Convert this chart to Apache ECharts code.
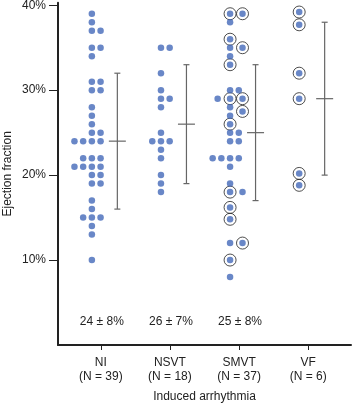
<!DOCTYPE html>
<html>
<head>
<meta charset="utf-8">
<script src="https://cdn.jsdelivr.net/npm/echarts@6/dist/echarts.min.js"></script>
<style>
  html, body { margin: 0; padding: 0; background: #fff; }
  #chart { width: 352px; height: 403px; }
</style>
</head>
<body>
<div id="chart"></div>
<script>
const groups = ["NI", "NSVT", "SMVT", "VF"];
const counts = [39, 18, 37, 6];
const means = [24, 26, 25, 29];
const sds = [8, 7, 8, 9];
const showSummary = [true, true, true, false];
const yTicks = [10, 20, 30, 40];

// ejection fraction of each patient (%)
const niValues = [39, 38, 37, 37, 35, 35, 34, 31, 31, 30, 30, 28, 27, 26, 25, 25,
  24, 24, 24, 24, 22, 22, 22, 21, 21, 21, 21, 20, 20, 19, 19, 17, 16, 15, 15, 15, 14, 13, 10];
const nsvtValues = [35, 35, 32, 30, 29, 29, 28, 25, 24, 24, 24, 23, 22, 20, 19, 18];
const smvtValues = [39, 39, 38, 36, 35, 35, 34, 33, 30, 30, 29, 29, 29, 28, 27.5, 27, 26,
  25, 25, 24, 24, 22, 22, 22, 22, 21, 19, 18, 18, 16.2, 14.8, 12, 12, 10, 8];
// 1 = circled patient
const smvtCircled = [1, 1, 0, 1, 0, 1, 0, 1, 0, 0, 1, 1, 0, 0, 1, 0, 1,
  0, 0, 0, 0, 0, 0, 0, 0, 0, 0, 1, 0, 1, 1, 0, 1, 1, 0];
const vfValues = [39.2, 37.7, 32, 29, 20.2, 18.8];
const vfCircled = [1, 1, 1, 1, 1, 1];

const groupValues = [niValues, nsvtValues, smvtValues, vfValues];
const groupCircled = [null, null, smvtCircled, vfCircled];

// layout (axis units, 1 unit = one category)
const COL0 = -0.13;
const DOT_STEP = 0.126;
const RING_STEP = 0.18;
const ORDER = [0, 1, -1, -2, 2];
const BAR_SHIFT = 16.5;

const dots = [];
const rings = [];
groupValues.forEach((vals, gi) => {
  const circ = groupCircled[gi];
  const rows = {};
  vals.forEach((v, i) => {
    const key = Math.round(v);
    (rows[key] = rows[key] || []).push(i);
  });
  Object.values(rows).forEach((row) => {
    const hasRing = circ && row.some((i) => circ[i]);
    const step = hasRing ? RING_STEP : DOT_STEP;
    row.forEach((idx, k) => {
      const x = gi + 1 + COL0 + ORDER[k] * step;
      dots.push([x, vals[idx]]);
      if (circ && circ[idx]) rings.push([x, vals[idx]]);
    });
  });
});

const barData = groups.map((g, i) => [i + 1, means[i], sds[i], showSummary[i] ? 1 : 0]);

const font = "Liberation Sans, Arial, sans-serif";
const chart = echarts.init(document.getElementById("chart"));

chart.setOption({
  animation: false,
  textStyle: { fontFamily: font },
  grid: { left: 58, right: 1, top: 2.7, bottom: 58, containLabel: false, outerBoundsMode: "none" },
  xAxis: {
    type: "value",
    min: 0.38,
    max: 4.62,
    name: "Induced arrhythmia",
    nameLocation: "middle",
    nameGap: 46,
    nameMoveOverlap: false,
    nameTextStyle: { color: "#222", fontSize: 12, fontFamily: font },
    axisLine: { lineStyle: { color: "#222", width: 2 } },
    axisTick: { customValues: [1, 2, 3, 4], length: 5, lineStyle: { color: "#222", width: 1 } },
    axisLabel: {
      customValues: [1, 2, 3, 4],
      margin: 11,
      color: "#222",
      fontSize: 12,
      lineHeight: 14,
      fontFamily: font,
      formatter: (v) => groups[v - 1] + "\n(N = " + counts[v - 1] + ")",
    },
    splitLine: { show: false },
  },
  yAxis: {
    type: "value",
    min: 0,
    max: 40.3,
    name: "Ejection fraction",
    nameLocation: "middle",
    nameGap: 44,
    nameMoveOverlap: false,
    nameTextStyle: { color: "#222", fontSize: 12, fontFamily: font },
    axisLine: { show: true, lineStyle: { color: "#222", width: 2 } },
    axisTick: { show: true, customValues: yTicks, length: 9, lineStyle: { color: "#222", width: 1 } },
    axisLabel: {
      customValues: yTicks,
      margin: 12,
      color: "#222",
      fontSize: 12,
      fontFamily: font,
      formatter: (v) => v + "%",
    },
    splitLine: { show: false },
  },
  series: [
    {
      type: "scatter",
      data: rings,
      symbolSize: 12,
      itemStyle: { color: "rgba(0,0,0,0)", borderColor: "#222", borderWidth: 1 },
      z: 2,
    },
    {
      type: "scatter",
      data: dots,
      symbolSize: 6.5,
      itemStyle: { color: "#4469b9" },
      z: 3,
    },
    {
      type: "custom",
      data: barData,
      z: 4,
      renderItem: (params, api) => {
        const gx = api.value(0);
        const m = api.value(1);
        const s = api.value(2);
        const x = api.coord([gx, m])[0] + BAR_SHIFT;
        const yTop = api.coord([gx, m + s])[1];
        const yBot = api.coord([gx, m - s])[1];
        const yMid = api.coord([gx, m])[1];
        const st = { stroke: "#666", lineWidth: 1.2 };
        const children = [
          { type: "line", shape: { x1: x, y1: yTop, x2: x, y2: yBot }, style: st },
          { type: "line", shape: { x1: x - 3, y1: yTop, x2: x + 3, y2: yTop }, style: st },
          { type: "line", shape: { x1: x - 3, y1: yBot, x2: x + 3, y2: yBot }, style: st },
          { type: "line", shape: { x1: x - 8.5, y1: yMid, x2: x + 8.5, y2: yMid }, style: st },
        ];
        if (api.value(3)) {
          const p = api.coord([gx, 2.8]);
          children.push({
            type: "text",
            style: {
              x: p[0] + 1,
              y: p[1],
              text: m + " \u00b1 " + s + "%",
              fill: "#222",
              font: "12px " + font,
              align: "center",
              verticalAlign: "middle",
            },
          });
        }
        return { type: "group", children };
      },
    },
  ],
});
</script>
</body>
</html>
